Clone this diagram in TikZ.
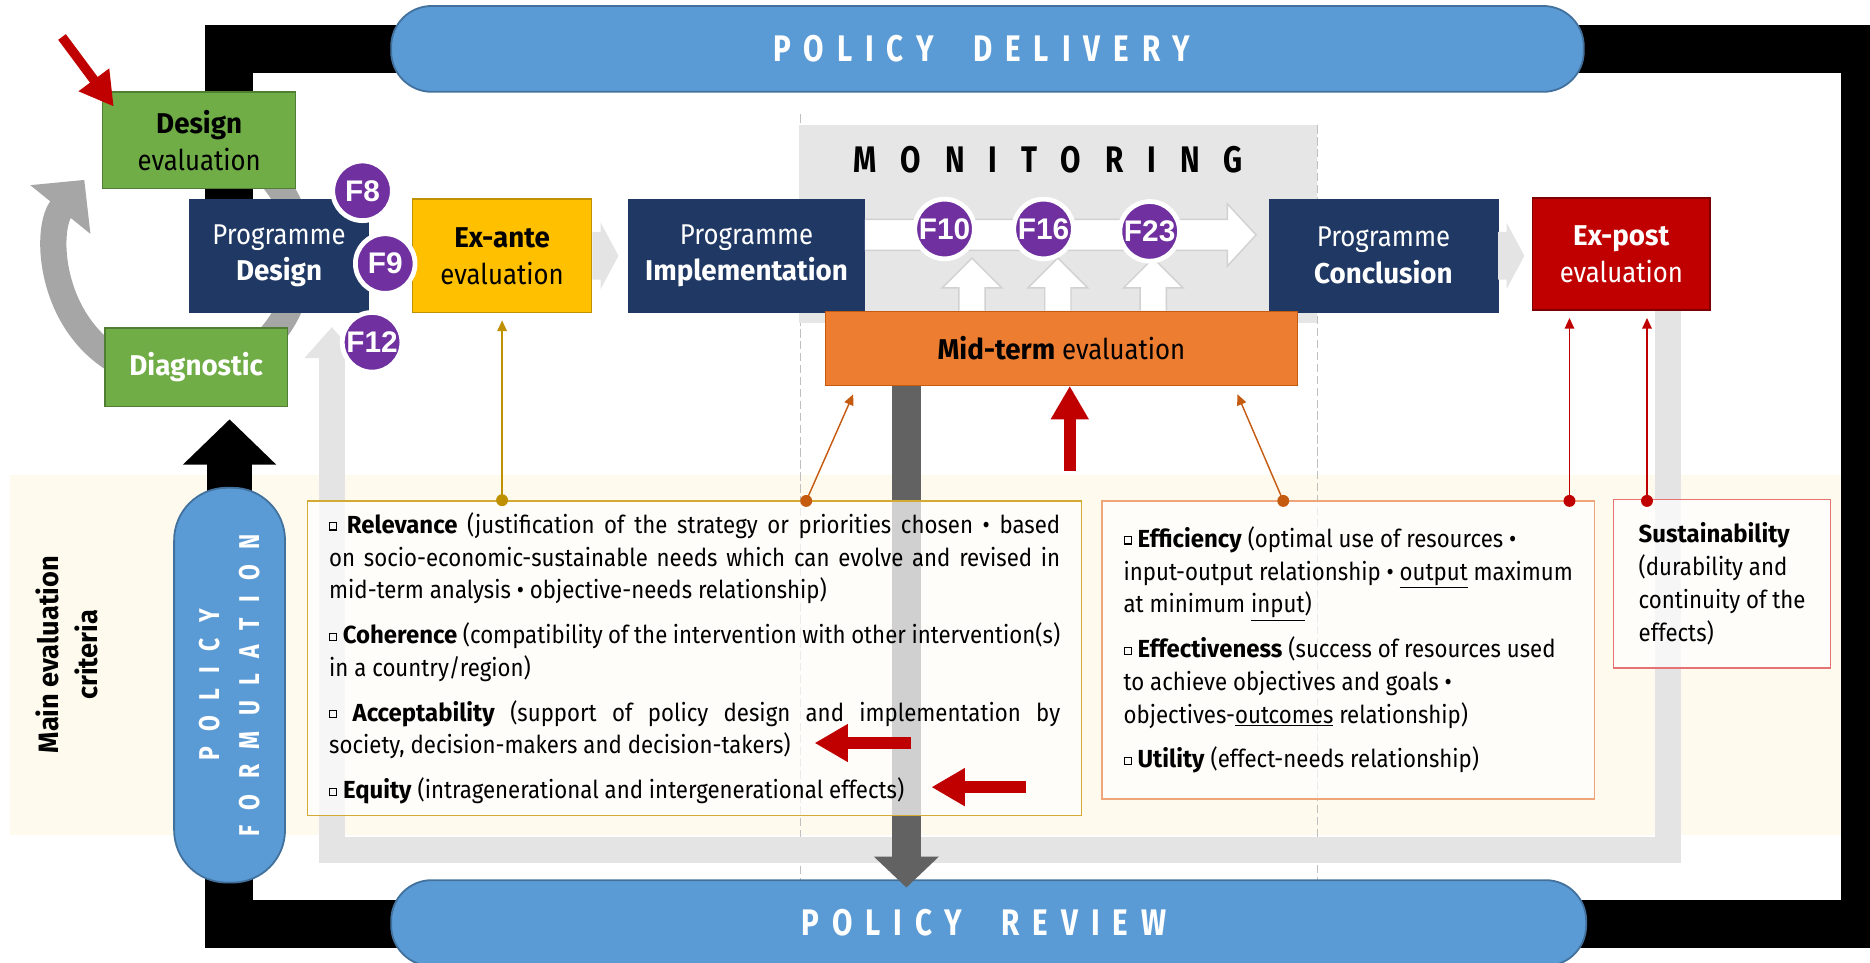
\documentclass[tikz,border=0pt]{standalone}
\usepackage{fontspec}
\setmainfont{Fira Sans}[UprightFeatures={FakeStretch=0.9}, BoldFeatures={FakeStretch=0.97}]
\newfontfamily\circlefont{Liberation Sans}
\newfontfamily\widefont{Fira Sans}[FakeStretch=0.8]
\usetikzlibrary{positioning, arrows.meta, calc}

\definecolor{navy}{HTML}{203864}
\definecolor{gold}{HTML}{FFC000}
\definecolor{golddark}{HTML}{BF9000}
\definecolor{orangemid}{HTML}{ED7D31}
\definecolor{orangedark}{HTML}{C55A11}
\definecolor{redbox}{HTML}{C00000}
\definecolor{reddark}{HTML}{7F0000}
\definecolor{greenbox}{HTML}{70AD47}
\definecolor{greendark}{HTML}{507E32}
\definecolor{pillblue}{HTML}{5B9BD5}
\definecolor{pillborder}{HTML}{41719C}
\definecolor{fpurple}{HTML}{7030A0}
\definecolor{lightgrey}{HTML}{E4E4E4}
\definecolor{monigrey}{HTML}{E6E6E6}
\definecolor{midgrey}{HTML}{A6A6A6}
\definecolor{darkgrey}{HTML}{626262}
\definecolor{cream}{HTML}{FEFAEE}
\definecolor{relgold}{HTML}{D4A934}
\definecolor{effor}{HTML}{EFA57A}
\definecolor{susred}{HTML}{E57373}

\newcommand{\boxfont}{\fontsize{24}{31}\selectfont}
\newcommand{\critfont}{\fontsize{20.7}{27.5}\selectfont}
\newcommand{\sqbul}{{\setlength{\fboxsep}{0pt}\setlength{\fboxrule}{0.9pt}\raisebox{0.3ex}{\fbox{\rule{0pt}{5pt}\hspace{5pt}}}}}

\pgfdeclarelayer{background}
\pgfsetlayers{background,main}

\begin{document}
\begin{tikzpicture}[x=1pt, y=-1pt,
    % Styles
    progbox/.style={fill=navy, draw=navy, text=white, font=\boxfont, align=center, minimum height=95pt, inner sep=0pt},
    evalbox/.style={very thick, font=\boxfont, align=center, inner sep=0pt},
    pill/.style={fill=pillblue, draw=pillborder, line width=1.5pt, text=white},
    pill-title/.style={text=white, font={\widefont\bfseries\fontsize{31}{31}\selectfont\addfontfeature{LetterSpace=35}}},
    fcircle/.style={circle, fill=fpurple, draw=white, line width=4pt, minimum size=50pt, inner sep=0pt, text=white, font=\circlefont\bfseries\fontsize{25}{25}\selectfont},
    critbox/.style={fill=white, fill opacity=0.7, text opacity=1, line width=1.2pt, font=\critfont, inner sep=0pt},
    thin-arrow/.style={-{Triangle[width=8pt,length=9pt]}, line width=1.2pt},
    red-arrow/.style={-{Triangle[width=30pt,length=28pt]}, line width=10pt, redbox},
    cycle-frame/.style={line width=40pt, line join=miter},
    loop-band/.style={line width=22pt, lightgrey, line join=miter},
    white-block/.style={fill=white, draw=black!18, line width=1.2pt, line join=miter},
    guide/.style={draw=black!25, line width=1pt, dash pattern=on 7pt off 3pt},
]
\useasboundingbox (0,0) rectangle (1568,807);

% Criteria band
\begin{pgfonlayer}{background}
    \fill[cream] (8,398) rectangle (1544,700);
\end{pgfonlayer}

% Dashed guides of the programme phases
\draw[guide] (671,96) -- (671,738);
\draw[guide] (1105,105) -- (1105,738);

% Policy cycle frame
\draw[cycle-frame] (192,167) -- (192,41) -- (1564,41) -- (1564,775) -- (192,775) -- (192,730);

% Monitoring area
\node[fill=monigrey, minimum width=434pt, minimum height=166pt, inner sep=0pt] (monitoring) at (887,188) {};
\node[font={\widefont\bfseries\fontsize{31}{31}\selectfont\addfontfeature{LetterSpace=65}}] (monitoring-title) at (879,134) {MONITORING};

% Cycle arrow round the diagnostic
\coordinate (cycle-centre) at (150,215);
\draw[midgrey, line width=22pt, -{Triangle[width=63pt,length=32pt]}] (cycle-centre) ++(-40:102) arc (-40:219:102);

% Design evaluation and diagnostic
\node[evalbox, fill=greenbox, draw=greendark, minimum width=162pt, minimum height=81pt] (design-eval) at (167,117.5) {\textbf{Design}\\evaluation};
\node[evalbox, fill=greenbox, draw=greendark, text=white, minimum width=153pt, minimum height=66pt] (diagnostic) at (164.5,308) {\textbf{Diagnostic}};

% Programme line
\node[progbox, minimum width=150pt] (prog-design) at (234,214.5) {Programme\\\textbf{Design}};
\node[evalbox, fill=gold, draw=golddark, minimum width=150pt, minimum height=95pt] (exante) at (421,214.5) {\textbf{Ex-ante}\\evaluation};
\node[progbox, minimum width=198pt] (prog-impl) at (626,214.5) {Programme\\\textbf{Implementation}};
\node[progbox, minimum width=192pt] (prog-conclusion) at (1160,214.5) {Programme\\\textbf{Conclusion}};
\node[evalbox, fill=redbox, draw=reddark, text=white, minimum width=149pt, minimum height=94pt] (expost) at (1359.5,213) {\textbf{Ex-post}\\evaluation};
\node[evalbox, fill=orangemid, draw=orangedark, minimum width=396pt, minimum height=62pt] (midterm) at (890,292) {\textbf{Mid-term} evaluation};

% Policy pills
\node[pill, minimum width=1000pt, minimum height=72pt, rounded corners=34pt] (delivery) at (828,41) {};
\node[pill-title] (delivery-title) at (823,41) {POLICY\hspace{33pt}DELIVERY};
\node[pill, minimum width=1002pt, minimum height=72pt, rounded corners=34pt] (review) at (829,774) {};
\node[pill-title] (review-title) at (825,774) {POLICY\hspace{33pt}REVIEW};
\node[pill, rotate=90, minimum width=331pt, minimum height=93pt, rounded corners=44pt, align=center, font={\widefont\bfseries\fontsize{24}{33}\selectfont\addfontfeature{LetterSpace=54}}] (formulation) at (192.5,574.5) {POLICY\\FORMULATION};

% Black arrow up to the diagnostic
\begin{pgfonlayer}{background}
    \draw[line width=38pt, -{Triangle[width=76pt,length=38pt]}, shorten >=10pt] (formulation.center) -- (formulation.center |- diagnostic.south);
\end{pgfonlayer}

% Light grey loop back to the design
\draw[loop-band, -{Triangle[width=44pt,length=26pt]}] ([xshift=-36pt]expost.south east) -- ++(0,452) -| ([shift={(-31,12)}]prog-design.south east);

% Grey arrows between the stages
\fill[lightgrey] (exante.east) ++(0,-20) -- ++(7,0) -- ++(0,-8) -- ++(15,28) -- ++(-15,28) -- ++(0,-8) -- ++(-7,0) -- cycle;
\fill[lightgrey] (prog-conclusion.east) ++(0,-20) -- ++(7,0) -- ++(0,-8) -- ++(15,28) -- ++(-15,28) -- ++(0,-8) -- ++(-7,0) -- cycle;

% White monitoring arrow and the arrows from the mid-term
\draw[white-block] (prog-impl.east) ++(0,-30.5) -- ++(304,0) -- ++(0,-13) -- ++(24,26) -- ++(-24,26) -- ++(0,-13) -- ++(-304,0);
\draw[white-block] (midterm.north -| 815,0) ++(-11,0) -- ++(0,-19) -- ++(-14,0) -- ++(25,-25) -- ++(25,25) -- ++(-14,0) -- ++(0,19);
\draw[white-block] (midterm.north -| 887,0) ++(-11,0) -- ++(0,-19) -- ++(-14,0) -- ++(25,-25) -- ++(25,25) -- ++(-14,0) -- ++(0,19);
\draw[white-block] (midterm.north -| 967,0) ++(-11,0) -- ++(0,-19) -- ++(-14,0) -- ++(25,-25) -- ++(25,25) -- ++(-14,0) -- ++(0,19);

% F circles
\node[fcircle] (f8) at (304,160) {F8};
\node[fcircle] (f9) at (323,221) {F9};
\node[fcircle] (f12) at (312,287) {F12};
\node[fcircle] (f10) at (792,192) {F10};
\node[fcircle] (f16) at (875,192) {F16};
\node[fcircle] (f23) at (964,194) {F23};

% Dark grey arrow down to the review
\draw[darkgrey, line width=24pt, -{Triangle[width=53pt,length=26pt]}, shorten >=-7pt] (midterm.south -| 760,0) -- (review.north -| 760,0);

% Criteria boxes
\node[critbox, draw=relgold, minimum width=649pt, minimum height=264pt, text width=613pt, align=justify] (relevance) at (582.5,552) {%
\sqbul\ \textbf{Relevance} (justification of the strategy or priorities chosen • based\linebreak on socio-economic-sustainable needs which can evolve and revised in\linebreak mid-term analysis • objective-needs relationship)\par\vspace{10pt}
\sqbul\ \textbf{Coherence} (compatibility of the intervention with other intervention(s)\linebreak in a country/region)\par\vspace{10pt}
\sqbul\ \textbf{Acceptability} (support of policy design and implementation by\linebreak society, decision-makers and decision-takers)\par\vspace{10pt}
\sqbul\ \textbf{Equity} (intragenerational and intergenerational effects)};

\node[critbox, draw=effor, minimum width=413pt, minimum height=250pt, align=left] (efficiency) at (1130.5,545) {%
\sqbul\ \textbf{Efficiency} (optimal use of resources •\\
input-output relationship • \underline{output} maximum\\
at minimum \underline{input})\\[10pt]
\sqbul\ \textbf{Effectiveness} (success of resources used\\
to achieve objectives and goals •\\
objectives-\underline{outcomes} relationship)\\[10pt]
\sqbul\ \textbf{Utility} (effect-needs relationship)};

\node[critbox, draw=susred, minimum width=182pt, minimum height=141pt, align=left] (sustainability) at (1444,489.5) {%
\textbf{Sustainability}\\(durability and\\continuity of the\\effects)};

% Connectors from the criteria
\coordinate (rel-gold) at (relevance.north -| exante.south);
\draw[thin-arrow, golddark, shorten >=6pt] (rel-gold) -- (exante.south);
\fill[golddark] (rel-gold) circle (5);

\coordinate (rel-orange) at (676,420);
\draw[thin-arrow, orangedark] (rel-orange) -- ([shift={(24,7)}]midterm.south west);
\fill[orangedark] (rel-orange) circle (5);

\coordinate (eff-orange) at (1076,420);
\draw[thin-arrow, orangedark] (eff-orange) -- ([shift={(-51,7)}]midterm.south east);
\fill[orangedark] (eff-orange) circle (5);

\coordinate (eff-red) at (1316,420);
\draw[thin-arrow, redbox, shorten >=6pt] (eff-red) -- (eff-red |- expost.south);
\fill[redbox] (eff-red) circle (5);

\coordinate (sus-red) at (1381,420);
\draw[thin-arrow, redbox, shorten >=6pt] (sus-red) -- (sus-red |- expost.south);
\fill[redbox] (sus-red) circle (5);

% Red pointers
\coordinate (pointer-design) at (52,31);
\draw[red-arrow, line width=8pt] (pointer-design) -- ([shift={(10,13)}]design-eval.north west);
\coordinate (pointer-midterm) at (897,395);
\draw[red-arrow] (pointer-midterm) -- (pointer-midterm |- midterm.south);
\coordinate (pointer-accept) at (764,623);
\coordinate (pointer-accept-end) at (683,623);
\draw[red-arrow] (pointer-accept) -- (pointer-accept-end);
\coordinate (pointer-equity) at (860,660);
\coordinate (pointer-equity-end) at (781,660);
\draw[red-arrow] (pointer-equity) -- (pointer-equity-end);

% Side label
\node[rotate=90, font=\bfseries\fontsize{23.5}{33}\selectfont, align=center] (criteria-label) at (56,549) {Main evaluation\\criteria};

\end{tikzpicture}
\end{document}
